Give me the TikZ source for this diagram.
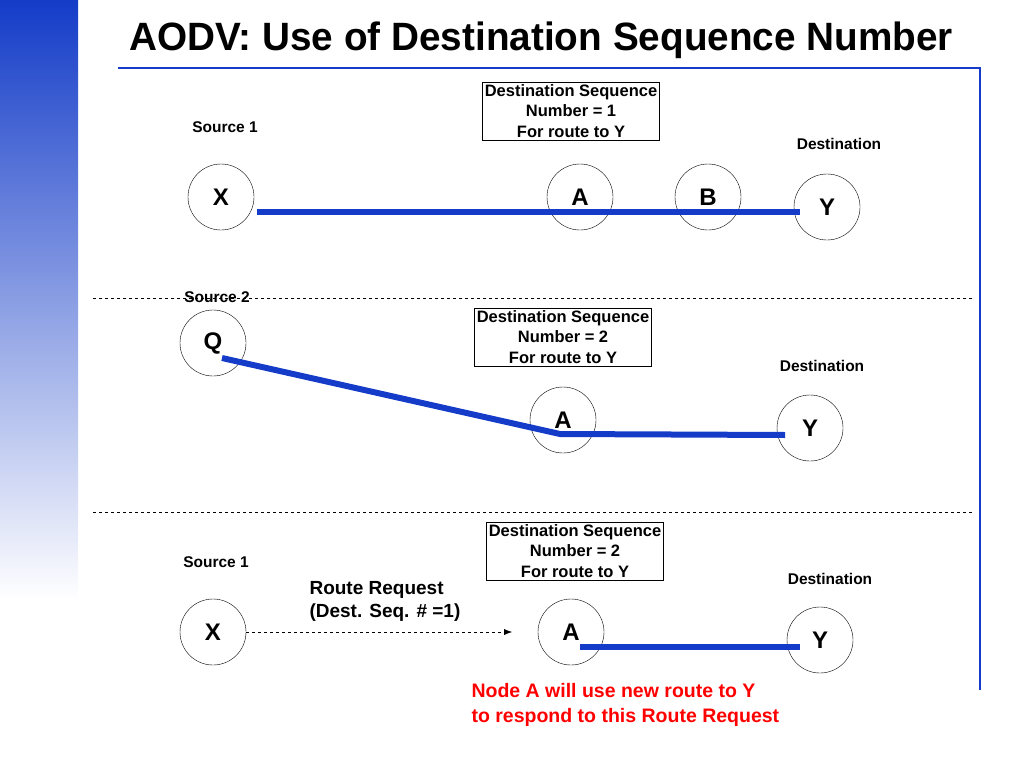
\documentclass[tikz,border=0pt]{standalone}
\usepackage{fontspec}
\setmainfont{Liberation Sans}
\usetikzlibrary{arrows.meta}
\definecolor{linkblue}{RGB}{20,60,200}
\tikzset{
  station/.style={draw, circle, minimum size=66pt, inner sep=0pt, font=\fontsize{24}{24}\selectfont\bfseries},
  seqbox/.style={draw, align=center, inner sep=2.5pt, font=\fontsize{16.5}{20.5}\selectfont\bfseries},
  caption/.style={font=\fontsize{15.5}{18}\selectfont\bfseries},
  link/.style={linkblue, line width=6pt},
  divider/.style={dashed, line width=0.8pt}
}
\begin{document}
\begin{tikzpicture}[x=1pt,y=-1pt]
\useasboundingbox (0,0) rectangle (1024,768);
\shade[top color=linkblue, bottom color=white] (0,0) rectangle (78,600);
\node[font=\fontsize{39.5}{40}\selectfont\bfseries, xscale=0.98] (title) at (541,40) {AODV: Use of Destination Sequence Number};
\draw[linkblue, line width=1.2pt] (118,68) -- (980,68) -- (980,690);
% top panel
\node[caption] (src1) at (225,127) {Source 1};
\node[seqbox] (box1) at (571,111) {Destination Sequence\\Number = 1\\For route to Y};
\node[caption] (dst1) at (839,144) {Destination};
\node[station] (X1) at (221,197) {X};
\node[station] (A1) at (580,197) {A};
\node[station] (B1) at (708,197) {B};
\node[station] (Y1) at (827,207) {Y};
\coordinate (s1) at (257,212);
\coordinate (e1) at (800,212);
\draw[link] (s1) -- (e1);
\draw[divider] (93,298) -- (972,298);
% middle panel
\node[caption] (src2) at (217,297) {Source 2};
\node[seqbox] (box2) at (563,337) {Destination Sequence\\Number = 2\\For route to Y};
\node[caption] (dst2) at (822,366) {Destination};
\node[station] (Q2) at (213,343) {Q};
\node[station] (A2) at (563,420) {A};
\node[station] (Y2) at (810,428) {Y};
\coordinate (s2) at (222,358);
\coordinate (m2) at (560,434);
\coordinate (e2) at (785,435);
\draw[link] (s2) -- (m2) -- (e2);
\draw[divider] (93,512) -- (972,512);
% bottom panel
\node[seqbox] (box3) at (575,551) {Destination Sequence\\Number = 2\\For route to Y};
\node[caption] (src3) at (216,562) {Source 1};
\node[caption] (dst3) at (830,579) {Destination};
\node[font=\fontsize{19}{23}\selectfont\bfseries, align=left, anchor=west] (rreq) at (306,601) {Route Request\\(Dest. Seq. \# =1)};
\node[station] (X3) at (213,632) {X};
\node[station] (A3) at (571,632) {A};
\node[station] (Y3) at (820,640) {Y};
\draw[dashed, -{Latex[length=8pt]}] (X3) -- (512,632);
\coordinate (s3) at (580,647);
\coordinate (e3) at (800,647);
\draw[link] (s3) -- (e3);
\node[font=\fontsize{19.5}{25}\selectfont\bfseries, text=red, align=left, anchor=west] (note) at (468,705) {Node A will use new route to Y\\to respond to this Route Request};
\end{tikzpicture}
\end{document}
